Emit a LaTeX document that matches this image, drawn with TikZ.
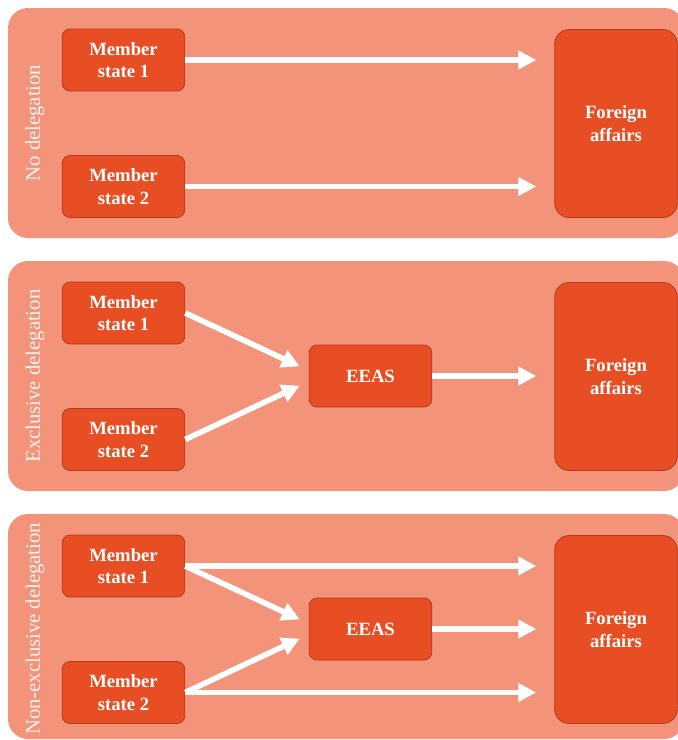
\documentclass[tikz,border=0pt]{standalone}
\usepackage{fontspec}
\setmainfont{Liberation Serif}
\usetikzlibrary{arrows.meta}
\definecolor{panelpink}{HTML}{F2937A}
\definecolor{boxorange}{HTML}{E84E23}
\definecolor{boxedge}{HTML}{B43A1C}

\begin{document}
\begin{tikzpicture}[x=0.75pt, y=-0.75pt,
  panel/.style={fill=panelpink, rounded corners=15pt},
  statebox/.style={rectangle, rounded corners=6pt, draw=boxedge, line width=0.6pt, fill=boxorange, text=white, font=\fontsize{14}{17}\selectfont\bfseries, align=center, inner sep=0pt, minimum width=92pt, minimum height=46.5pt},
  affairsbox/.style={statebox, rounded corners=11pt, minimum height=141pt},
  sidelabel/.style={rotate=90, text=white!90!panelpink, font=\fontsize{15.5}{18}\selectfont},
  arr/.style={draw=white, line width=4.2pt, -{Triangle[length=13.5pt,width=13.5pt]}}]
  \useasboundingbox (0,0) rectangle (678,740);

  % Panels with member states and foreign affairs
  \foreach \y/\b/\lab [count=\p] in {0/238/No delegation, 253/491/Exclusive delegation, 506/739/Non-exclusive delegation} {
    \fill[panel] (8,8+\y) rectangle (684,\b);
    \node[sidelabel] (lab-\p) at (35,123+\y) {\lab};
    \node[statebox] (ms-\p-1) at (123.5,60+\y) {Member\\state 1};
    \node[statebox] (ms-\p-2) at (123.5,186.5+\y) {Member\\state 2};
    \node[affairsbox] (fa-\p) at (616,123.5+\y) {Foreign\\affairs};
  }

  % EEAS
  \node[statebox] (eeas-2) at (370.5,376) {EEAS};
  \node[statebox] (eeas-3) at (370.5,629) {EEAS};

  % No delegation
  \foreach \i in {1,2}
    \draw[arr, shorten >=13.5pt] (ms-1-\i.east) -- (ms-1-\i.east -| fa-1.west);

  % Exclusive delegation
  \draw[arr, shorten >=7.5pt] (ms-2-1.east) -- (eeas-2.175);
  \draw[arr, shorten >=7.5pt] (ms-2-2.east) -- (eeas-2.185);
  \draw[arr, shorten >=13.5pt] (eeas-2.east) -- (eeas-2.east -| fa-2.west);

  % Non-exclusive delegation
  \foreach \i in {1,2}
    \draw[arr, shorten >=13.5pt] (ms-3-\i.east) -- (ms-3-\i.east -| fa-3.west);
  \draw[arr, shorten >=7.5pt] (ms-3-1.east) -- (eeas-3.175);
  \draw[arr, shorten >=7.5pt] (ms-3-2.east) -- (eeas-3.185);
  \draw[arr, shorten >=13.5pt] (eeas-3.east) -- (eeas-3.east -| fa-3.west);
\end{tikzpicture}
\end{document}
